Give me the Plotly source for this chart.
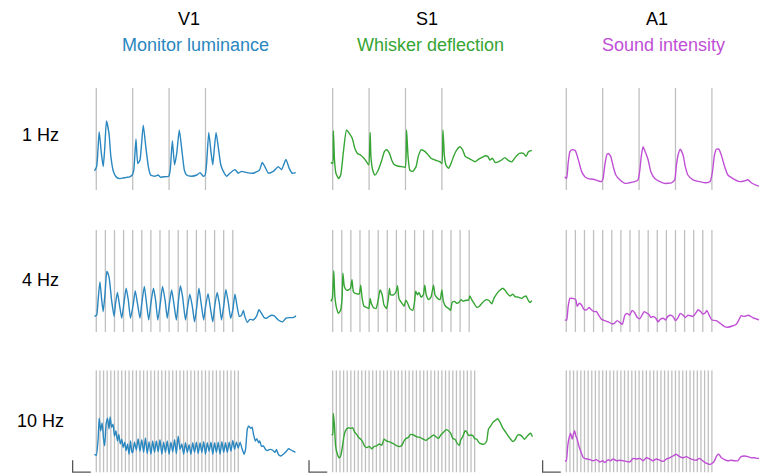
import plotly.graph_objects as go

# ---------------- labels ----------------
COLUMNS = ["V1", "S1", "A1"]
SUBTITLES = ["Monitor luminance", "Whisker deflection", "Sound intensity"]
ROW_LABELS = ["1 Hz", "4 Hz", "10 Hz"]
FREQS = [1, 4, 10]
N_PULSES = {"V1": [4, 16, 40], "S1": [4, 16, 40], "A1": [5, 17, 41]}
COLORS = {"V1": "#2a87c0", "S1": "#36a534", "A1": "#c04fd6"}

# ---------------- data (time in s, response in a.u.) ----------------
v1_1hz_t = [-0.05, 0.01, 0.08, 0.14, 0.19, 0.23, 0.28, 0.35, 0.40, 0.47, 0.56, 0.65, 0.74, 0.83, 0.92, 0.99,
            1.03, 1.09, 1.14, 1.20, 1.29, 1.36, 1.43, 1.49, 1.61, 1.70, 1.77, 1.84, 1.99,
            2.03, 2.09, 2.15, 2.21, 2.28, 2.35, 2.42, 2.48, 2.62, 2.76, 2.85, 2.94, 2.99,
            3.03, 3.09, 3.15, 3.20, 3.24, 3.29, 3.35, 3.42, 3.49, 3.58, 3.67, 3.81, 3.90, 3.99,
            4.13, 4.31, 4.48, 4.56, 4.63, 4.73, 4.86, 5.00, 5.09, 5.21, 5.30, 5.38, 5.48]
v1_1hz_v = [3.2, 3.9, 9.7, 6.1, 3.9, 6.7, 11.5, 9.4, 5.6, 3.1, 2.1, 1.9, 2.0, 2.1, 2.2, 2.5,
            3.3, 8.5, 4.4, 5.0, 10.8, 7.2, 3.9, 2.5, 2.3, 2.5, 2.1, 2.2, 2.3,
            3.3, 8.2, 4.2, 6.1, 10.0, 6.7, 3.3, 2.5, 2.3, 2.5, 2.9, 2.3, 2.5,
            4.4, 9.6, 6.4, 4.2, 6.7, 9.6, 7.2, 4.2, 3.1, 2.3, 2.8, 3.4, 2.8, 3.1,
            2.9, 2.8, 3.3, 4.6, 3.9, 2.8, 3.1, 3.9, 3.4, 5.1, 3.6, 2.8, 2.9]

s1_1hz_t = [-0.05, 0.00, 0.02, 0.05, 0.09, 0.16, 0.22, 0.29, 0.38, 0.46, 0.54, 0.61, 0.68, 0.77, 0.86, 0.93, 0.99,
            1.03, 1.05, 1.10, 1.16, 1.25, 1.35, 1.42, 1.48, 1.56, 1.62, 1.68, 1.78, 1.90, 1.99,
            2.03, 2.07, 2.12, 2.20, 2.29, 2.35, 2.43, 2.54, 2.63, 2.70, 2.81, 2.95, 3.00,
            3.03, 3.07, 3.11, 3.18, 3.25, 3.32, 3.41, 3.50, 3.57, 3.64, 3.73, 3.82, 3.91,
            4.00, 4.09, 4.19, 4.26, 4.32, 4.39, 4.46, 4.55, 4.64, 4.73, 4.83, 4.92, 5.01,
            5.13, 5.24, 5.31, 5.38, 5.47]
s1_1hz_v = [4.6, 4.4, 9.9, 5.0, 2.8, 1.9, 2.5, 6.1, 10.0, 9.4, 8.6, 6.9, 6.1, 5.8, 5.3, 4.7, 4.2,
            9.6, 5.6, 3.3, 2.5, 3.3, 5.0, 6.4, 6.7, 6.1, 5.0, 4.3, 4.0, 3.9, 3.8,
            10.0, 5.6, 3.3, 3.1, 3.9, 5.6, 6.7, 6.4, 5.8, 5.3, 5.0, 4.7, 4.4,
            10.0, 5.6, 4.2, 3.6, 4.4, 5.6, 6.7, 7.2, 6.7, 5.6, 5.3, 5.0, 4.7,
            5.1, 5.4, 5.7, 5.6, 5.0, 5.3, 4.6, 4.7, 5.0, 5.4, 4.9, 4.7, 5.4,
            6.1, 6.1, 5.6, 6.4, 6.6]

a1_1hz_t = [-0.04, 0.01, 0.05, 0.10, 0.15, 0.24, 0.28, 0.36, 0.42, 0.51, 0.60, 0.74, 0.88, 0.97,
            1.01, 1.06, 1.11, 1.15, 1.22, 1.29, 1.36, 1.47, 1.61, 1.74, 1.88, 1.97,
            2.02, 2.06, 2.11, 2.18, 2.25, 2.32, 2.43, 2.57, 2.70, 2.89, 2.98,
            3.02, 3.07, 3.13, 3.21, 3.27, 3.34, 3.48, 3.66, 3.84, 3.95,
            4.01, 4.07, 4.12, 4.19, 4.26, 4.35, 4.44, 4.58, 4.76, 4.89, 4.99,
            5.08, 5.21, 5.35, 5.44, 5.49]
a1_1hz_v = [2.2, 1.9, 4.4, 6.4, 6.7, 6.6, 6.1, 4.4, 3.1, 2.2, 1.9, 1.8, 1.5, 1.4,
            1.9, 4.2, 5.8, 6.1, 5.6, 3.9, 2.5, 1.7, 1.1, 1.2, 1.4, 1.7,
            3.3, 5.6, 7.2, 6.2, 5.0, 3.1, 1.9, 1.4, 1.1, 1.2, 1.7,
            3.9, 5.8, 6.8, 5.8, 3.9, 2.5, 1.7, 1.4, 1.2, 1.4,
            2.8, 5.8, 6.8, 6.8, 5.8, 3.9, 2.5, 1.9, 1.4, 1.5, 1.7,
            1.2, 0.8, 0.6, 0.8, 0.9]

v1_4hz_t = [-0.05, 0.01, 0.05, 0.10, 0.15, 0.19, 0.24, 0.29, 0.35, 0.42, 0.49, 0.53, 0.58, 0.63, 0.70,
            0.76, 0.82, 0.88, 0.94, 1.02, 1.07, 1.13, 1.20, 1.25, 1.32, 1.38, 1.44, 1.50, 1.57,
            1.63, 1.69, 1.76, 1.82, 1.89, 1.95, 2.01, 2.07, 2.13, 2.20, 2.25, 2.31, 2.37, 2.45,
            2.51, 2.57, 2.64, 2.70, 2.76, 2.82, 2.88, 2.95, 3.00, 3.07, 3.13, 3.20, 3.25, 3.32,
            3.38, 3.44, 3.51, 3.56, 3.63, 3.69, 3.75, 3.81, 3.87, 3.93, 3.99, 4.04, 4.08, 4.15,
            4.22, 4.31, 4.40, 4.47, 4.54, 4.61, 4.68, 4.75, 4.82, 4.89, 5.00, 5.12, 5.21, 5.32,
            5.41, 5.49]
v1_4hz_v = [2.6, 2.8, 5.3, 8.4, 5.3, 3.4, 6.4, 10.1, 9.2, 5.3, 2.6, 4.8, 6.6, 4.8, 2.3,
            4.8, 7.3, 5.3, 2.3, 4.8, 6.9, 4.8, 2.3, 4.8, 7.6, 4.8, 2.0, 4.8, 7.3,
            5.3, 2.0, 4.8, 7.6, 5.3, 2.3, 4.8, 7.0, 4.8, 2.0, 4.8, 7.7, 5.9, 2.0,
            4.2, 6.3, 4.2, 1.7, 4.2, 7.3, 4.8, 2.0, 4.2, 6.4, 4.2, 1.7, 4.2, 6.6,
            4.8, 2.0, 4.8, 7.1, 4.8, 2.3, 3.7, 6.3, 4.2, 2.6, 2.8, 3.6, 2.6, 1.6,
            2.1, 2.0, 2.6, 3.7, 3.1, 2.4, 2.3, 2.6, 2.8, 2.7, 2.0, 1.7, 2.3, 2.4,
            2.4, 2.7]

s1_4hz_t = [-0.05, -0.01, 0.03, 0.06, 0.11, 0.16, 0.22, 0.26, 0.28, 0.32, 0.37, 0.43, 0.49, 0.53, 0.57,
            0.64, 0.73, 0.77, 0.81, 0.86, 0.93, 0.99, 1.03, 1.06, 1.12, 1.19, 1.25, 1.30, 1.36,
            1.41, 1.48, 1.53, 1.56, 1.59, 1.67, 1.74, 1.78, 1.82, 1.90, 1.96, 2.01, 2.06, 2.12,
            2.20, 2.25, 2.28, 2.33, 2.37, 2.43, 2.49, 2.53, 2.57, 2.63, 2.70, 2.77, 2.81, 2.88,
            2.95, 3.00, 3.04, 3.11, 3.19, 3.24, 3.28, 3.34, 3.41, 3.46, 3.53, 3.59, 3.66, 3.73,
            3.77, 3.82, 3.88, 3.96, 4.03, 4.10, 4.17, 4.23, 4.30, 4.37, 4.43, 4.51, 4.60, 4.67,
            4.73, 4.80, 4.87, 4.95, 5.01, 5.10, 5.19, 5.26, 5.31, 5.38, 5.42, 5.47]
s1_4hz_v = [5.1, 5.6, 10.2, 5.9, 3.9, 3.1, 3.7, 5.9, 9.8, 7.6, 7.0, 7.0, 7.3, 8.7, 6.7,
            6.4, 6.4, 7.8, 5.6, 4.3, 4.1, 3.9, 5.6, 4.8, 4.1, 3.9, 5.3, 7.0, 6.2,
            4.5, 3.9, 5.6, 7.3, 6.2, 6.2, 6.7, 7.7, 5.6, 4.8, 4.3, 5.3, 4.8, 3.9,
            3.6, 5.1, 6.8, 6.2, 6.6, 5.8, 6.2, 7.8, 6.2, 5.4, 5.8, 7.8, 6.2, 5.6,
            5.4, 7.0, 5.1, 4.2, 3.9, 3.6, 4.9, 5.1, 4.8, 4.9, 5.4, 5.1, 5.3, 5.3,
            6.0, 5.4, 4.8, 4.1, 4.3, 4.8, 5.2, 5.4, 5.2, 4.7, 5.6, 6.4, 7.0, 7.3,
            7.0, 6.4, 6.0, 6.3, 5.9, 5.8, 5.6, 5.9, 6.0, 5.2, 4.9, 5.2]

a1_4hz_t = [-0.04, 0.01, 0.05, 0.10, 0.17, 0.26, 0.30, 0.36, 0.42, 0.48, 0.56, 0.63, 0.69, 0.76, 0.83,
            0.89, 0.97, 1.06, 1.15, 1.24, 1.31, 1.40, 1.47, 1.54, 1.61, 1.67, 1.74, 1.81, 1.88,
            1.95, 2.02, 2.08, 2.14, 2.20, 2.26, 2.33, 2.38, 2.46, 2.52, 2.58, 2.66, 2.72, 2.79,
            2.87, 2.93, 3.00, 3.07, 3.13, 3.21, 3.27, 3.34, 3.41, 3.48, 3.55, 3.62, 3.69, 3.75,
            3.82, 3.86, 3.94, 4.00, 4.12, 4.26, 4.35, 4.44, 4.56, 4.67, 4.74, 4.80, 4.89, 5.01,
            5.12, 5.21, 5.31, 5.40, 5.49]
a1_4hz_v = [2.0, 2.0, 4.2, 5.6, 5.6, 5.4, 4.3, 4.8, 4.5, 3.8, 3.7, 4.1, 3.7, 3.4, 3.4,
            2.8, 2.1, 1.9, 1.7, 1.4, 1.4, 1.9, 1.6, 1.3, 2.8, 3.1, 2.8, 3.6, 3.2,
            2.4, 2.2, 2.8, 3.4, 3.2, 3.0, 2.4, 2.6, 2.3, 1.7, 2.1, 2.3, 2.0, 2.6,
            2.8, 2.6, 1.9, 2.4, 3.1, 2.8, 2.4, 2.8, 2.7, 2.6, 3.1, 3.7, 3.4, 3.0,
            3.2, 3.6, 2.6, 2.0, 1.9, 1.3, 0.9, 0.8, 1.0, 1.3, 2.0, 2.7, 2.6, 2.8,
            2.4, 2.2, 2.0, 2.1, 2.0]

v1_10hz_t = [-0.05, 0.00, 0.05, 0.08, 0.12, 0.16, 0.20, 0.23, 0.27, 0.31, 0.35, 0.38, 0.42, 0.46,
             0.50, 0.54, 0.58, 0.62, 0.66, 0.70, 0.74, 0.78, 0.82, 0.86, 0.90, 0.94, 0.98,
             1.00, 1.05, 1.10, 1.15, 1.20, 1.25, 1.30, 1.35, 1.40, 1.45, 1.50, 1.55, 1.60, 1.65,
             1.70, 1.75, 1.80, 1.85, 1.90, 1.95, 2.00, 2.05, 2.10, 2.15, 2.20, 2.25, 2.30, 2.35,
             2.40, 2.45, 2.50, 2.55, 2.60, 2.65, 2.70, 2.75, 2.80, 2.85, 2.90, 2.95, 3.00, 3.05,
             3.10, 3.15, 3.20, 3.25, 3.30, 3.35, 3.40, 3.45, 3.50, 3.55, 3.60, 3.65, 3.70, 3.75,
             3.80, 3.85, 3.90, 3.95, 4.00, 4.06, 4.10, 4.15, 4.19, 4.24, 4.28, 4.32, 4.37, 4.41,
             4.46, 4.49, 4.54, 4.59, 4.65, 4.70, 4.77, 4.84, 4.91, 4.95, 5.00, 5.07, 5.14, 5.21,
             5.28, 5.35, 5.41, 5.47]
v1_10hz_v = [3.0, 2.8, 5.5, 9.0, 6.9, 8.2, 5.5, 4.4, 8.0, 9.0, 7.2, 9.2, 7.5, 8.0,
             6.0, 6.9, 5.2, 6.3, 4.7, 5.5, 4.1, 5.0, 3.6, 4.7, 3.0, 5.2, 3.3,
             3.3, 5.0, 3.7, 5.6, 3.5, 5.4, 3.3, 5.7, 3.1, 5.1, 3.0, 5.2, 3.3, 5.2,
             3.4, 5.4, 3.0, 5.0, 3.3, 5.2, 3.0, 5.0, 3.4, 5.4, 3.1, 6.0, 3.8, 4.7,
             3.0, 4.9, 3.3, 4.6, 3.0, 4.9, 3.3, 5.0, 3.1, 4.9, 3.3, 5.1, 3.0, 4.9,
             3.5, 5.0, 3.0, 4.9, 3.3, 5.0, 3.0, 5.1, 3.3, 4.9, 3.3, 5.0, 3.5, 5.3,
             3.8, 5.0, 4.0, 5.0, 4.0, 3.0, 3.8, 7.2, 7.7, 7.3, 7.5, 6.3, 5.2, 5.6,
             4.9, 5.2, 4.3, 4.4, 3.8, 3.6, 3.8, 3.7, 3.3, 3.8, 3.0, 2.7, 3.0, 3.4,
             3.9, 3.7, 3.5, 3.3]

s1_10hz_t = [-0.03, 0.00, 0.02, 0.05, 0.08, 0.13, 0.18, 0.22, 0.27, 0.32, 0.38, 0.44, 0.49, 0.55, 0.60,
             0.66, 0.71, 0.77, 0.82, 0.88, 0.93, 1.01, 1.07, 1.14, 1.21, 1.28, 1.35, 1.41, 1.48,
             1.55, 1.62, 1.68, 1.76, 1.85, 1.90, 1.96, 2.01, 2.08, 2.14, 2.22, 2.31, 2.40, 2.49,
             2.56, 2.63, 2.70, 2.77, 2.84, 2.90, 2.97, 3.04, 3.11, 3.18, 3.24, 3.30, 3.36, 3.42,
             3.48, 3.52, 3.57, 3.64, 3.68, 3.74, 3.79, 3.85, 3.90, 3.96, 4.02, 4.09, 4.17, 4.23,
             4.28, 4.34, 4.40, 4.46, 4.53, 4.60, 4.67, 4.76, 4.85, 4.95, 5.01, 5.08, 5.15, 5.21,
             5.27, 5.33, 5.39, 5.44, 5.49]
s1_10hz_v = [6.2, 6.3, 9.8, 7.7, 4.4, 3.0, 2.4, 2.7, 4.4, 6.3, 7.2, 7.4, 7.3, 7.4, 6.7,
             6.3, 5.8, 5.5, 5.1, 4.3, 4.1, 4.3, 3.9, 4.3, 4.4, 4.7, 4.5, 5.5, 5.2,
             5.1, 4.9, 4.7, 4.4, 4.3, 4.5, 5.2, 5.6, 5.8, 6.3, 6.2, 5.9, 5.8, 5.5,
             5.3, 5.6, 5.9, 6.2, 5.9, 5.6, 6.2, 6.6, 7.1, 6.9, 6.5, 5.6, 5.5, 4.8,
             4.5, 5.4, 5.9, 6.9, 6.7, 6.1, 6.2, 6.1, 5.6, 5.5, 4.9, 4.7, 4.7, 5.2,
             7.2, 7.7, 8.3, 8.6, 8.9, 8.3, 7.4, 6.6, 5.8, 5.1, 5.4, 6.2, 6.2, 5.9,
             5.5, 5.9, 6.3, 6.5, 5.9]

a1_10hz_t = [-0.04, 0.00, 0.04, 0.08, 0.12, 0.16, 0.19, 0.23, 0.26, 0.30, 0.35, 0.39, 0.47, 0.56, 0.65,
             0.74, 0.83, 0.92, 1.00, 1.06, 1.15, 1.21, 1.29, 1.38, 1.47, 1.56, 1.65, 1.74, 1.84,
             1.93, 2.02, 2.11, 2.20, 2.29, 2.38, 2.47, 2.57, 2.66, 2.75, 2.84, 2.93, 3.02, 3.11,
             3.21, 3.30, 3.39, 3.48, 3.57, 3.66, 3.75, 3.84, 3.94, 4.01, 4.07, 4.14, 4.19, 4.26,
             4.35, 4.44, 4.53, 4.62, 4.71, 4.80, 4.89, 4.99, 5.08, 5.17, 5.26, 5.35, 5.42, 5.49]
a1_10hz_v = [1.9, 1.9, 4.4, 5.8, 6.5, 5.5, 6.2, 6.9, 6.1, 5.5, 4.3, 3.6, 2.4, 2.2, 2.1,
             1.9, 2.1, 1.7, 1.9, 1.6, 2.1, 1.9, 2.2, 1.9, 2.0, 1.9, 1.8, 1.7, 2.3,
             2.2, 2.3, 1.9, 2.4, 2.2, 1.9, 2.2, 2.0, 1.8, 2.2, 2.4, 2.7, 3.0, 2.6,
             2.4, 2.6, 2.3, 2.1, 2.0, 2.3, 1.9, 1.5, 1.3, 1.5, 1.9, 2.8, 3.0, 2.4,
             2.1, 1.9, 2.0, 1.9, 1.9, 2.6, 2.7, 2.6, 2.4, 2.4, 2.3, 2.3, 2.1, 2.1]

TRACES = {
    ("V1", 0): (v1_1hz_t, v1_1hz_v), ("S1", 0): (s1_1hz_t, s1_1hz_v), ("A1", 0): (a1_1hz_t, a1_1hz_v),
    ("V1", 1): (v1_4hz_t, v1_4hz_v), ("S1", 1): (s1_4hz_t, s1_4hz_v), ("A1", 1): (a1_4hz_t, a1_4hz_v),
    ("V1", 2): (v1_10hz_t, v1_10hz_v), ("S1", 2): (s1_10hz_t, s1_10hz_v), ("A1", 2): (a1_10hz_t, a1_10hz_v),
}

# scale bar: 0.5 s, 2 a.u.
SCALE_T0, SCALE_DT, SCALE_DV = -0.65, 0.5, 2.0
STIM_TOP = 17.0

# ---------------- layout geometry (page pixels; page body has an 8 px margin) ----------------
PAGE_MARGIN = 8
W, H = 767 - PAGE_MARGIN, 474 - PAGE_MARGIN
X_RANGE = [-0.7, 5.5]
Y_RANGE = [-0.3, 17.0]
COL_LEFT_PX = [70.8, 307.2, 540.8]
COL_W_PX = 225.7
ROW_TOP_PX = [88.0, 230.0, 370.2]
ROW_H_PX = 103.8


def px_x(p):
    return (p - PAGE_MARGIN) / W


def px_y(p):
    return 1 - (p - PAGE_MARGIN) / H


fig = go.Figure()


def axname(prefix, i):
    return prefix if i == 0 else f"{prefix}{i + 1}"


for ci, col in enumerate(COLUMNS):
    for ri, freq in enumerate(FREQS):
        xa, ya = axname("x", ci), axname("y", ri)
        n = N_PULSES[col][ri]
        sx, sy = [], []
        for k in range(n):
            t = k / freq
            sx += [t, t, None]
            sy += [0, STIM_TOP, None]
        fig.add_trace(go.Scatter(x=sx, y=sy, mode="lines", xaxis=xa, yaxis=ya,
                                 line=dict(color="rgb(192,192,192)", width=1.3),
                                 hoverinfo="skip"))
        tt, vv = TRACES[(col, ri)]
        fig.add_trace(go.Scatter(x=tt, y=vv, mode="lines", xaxis=xa, yaxis=ya,
                                 line=dict(color=COLORS[col], width=1.4,
                                           shape="spline", smoothing=0.5)))
    fig.add_trace(go.Scatter(x=[SCALE_T0, SCALE_T0, SCALE_T0 + SCALE_DT],
                             y=[SCALE_DV, 0, 0], mode="lines",
                             xaxis=axname("x", ci), yaxis=axname("y", 2),
                             line=dict(color="#555555", width=1.3)))

layout = dict(width=W, height=H, margin=dict(l=0, r=0, t=0, b=0),
              paper_bgcolor="white", plot_bgcolor="white", showlegend=False,
              font=dict(family="Arial, Liberation Sans, sans-serif", color="black"))
for ci in range(3):
    left = px_x(COL_LEFT_PX[ci])
    layout[axname("xaxis", ci)] = dict(domain=[left, left + COL_W_PX / W], range=X_RANGE,
                                       visible=False, anchor="y")
for ri in range(3):
    top = px_y(ROW_TOP_PX[ri])
    layout[axname("yaxis", ri)] = dict(domain=[max(0, top - ROW_H_PX / H), top], range=Y_RANGE,
                                       visible=False, anchor="x")
fig.update_layout(**layout)

TITLE_X_PX = [189, 427, 657]
SUB_X_PX = [195, 430, 663]
for ci, col in enumerate(COLUMNS):
    fig.add_annotation(text=col, x=px_x(TITLE_X_PX[ci]), y=1, xref="paper", yref="paper",
                       showarrow=False, font=dict(size=18, color="black"), borderpad=0,
                       xanchor="center", yanchor="top")
    fig.add_annotation(text=SUBTITLES[ci], x=px_x(SUB_X_PX[ci]), y=px_y(45), xref="paper", yref="paper",
                       showarrow=False, font=dict(size=18, color=COLORS[col]),
                       xanchor="center", yanchor="middle")

ROW_Y_PX = [135, 280, 421]
for ri, lab in enumerate(ROW_LABELS):
    fig.add_annotation(text=lab, x=px_x(40), y=px_y(ROW_Y_PX[ri]), xref="paper", yref="paper",
                       showarrow=False, font=dict(size=18, color="black"),
                       xanchor="center", yanchor="middle")

fig.write_html("out.html")
